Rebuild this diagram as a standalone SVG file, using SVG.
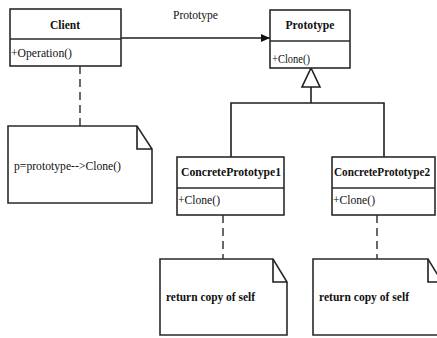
<svg xmlns="http://www.w3.org/2000/svg" width="437" height="338" viewBox="0 0 437 338" font-family="Liberation Serif, Times New Roman, serif" font-size="13">
  <defs>
    <style>
      .box { fill: #ffffff; stroke: #2a2a2a; stroke-width: 1.6; }
      .div { stroke: #2a2a2a; stroke-width: 1.4; }
      .line { fill: none; stroke: #1e1e1e; stroke-width: 1.6; }
      .dash { fill: none; stroke: #2a2a2a; stroke-width: 1.4; stroke-dasharray: 8 5; }
      .title { font-weight: bold; fill: #111; }
      .op { fill: #111; }
    </style>
    <marker id="filled" markerWidth="10" markerHeight="10" refX="9" refY="5" orient="auto" markerUnits="userSpaceOnUse">
      <path d="M0,1 L9,5 L0,9 Z" fill="#111"/>
    </marker>
  </defs>
  <rect width="437" height="338" fill="#ffffff"/>

  <!-- connectors -->
  <g id="connectors">
    <line class="line" x1="121" y1="38" x2="270" y2="38" marker-end="url(#filled)"/>
    <text class="op" x="173" y="19" textLength="45" lengthAdjust="spacingAndGlyphs">Prototype</text>
    <!-- generalization -->
    <polygon points="311,68 302,87 320,87" fill="#ffffff" stroke="#1e1e1e" stroke-width="1.6"/>
    <polyline class="line" points="311,87 311,103" stroke-width="2"/>
    <polyline class="line" points="231,157 231,103 384,103 384,157" stroke-width="2"/>
    <!-- note anchors -->
    <line class="dash" x1="80" y1="66" x2="80" y2="126"/>
    <line class="dash" x1="223" y1="215" x2="223" y2="259"/>
    <line class="dash" x1="377" y1="215" x2="377" y2="259"/>
  </g>

  <g id="client">
    <rect class="box" x="10" y="9" width="111" height="57"/>
    <line class="div" x1="10" y1="39" x2="121" y2="39"/>
    <text class="title" x="65" y="29" text-anchor="middle" textLength="30" lengthAdjust="spacingAndGlyphs">Client</text>
    <text class="op" x="11" y="57" textLength="61" lengthAdjust="spacingAndGlyphs">+Operation()</text>
  </g>

  <g id="prototype">
    <rect class="box" x="270" y="10" width="80" height="58"/>
    <line class="div" x1="270" y1="41" x2="350" y2="41"/>
    <text class="title" x="310" y="29" text-anchor="middle" textLength="49" lengthAdjust="spacingAndGlyphs">Prototype</text>
    <text class="op" x="272" y="63" textLength="38" lengthAdjust="spacingAndGlyphs">+Clone()</text>
  </g>

  <g id="concrete1">
    <rect class="box" x="177" y="157" width="107" height="58"/>
    <line class="div" x1="177" y1="188" x2="284" y2="188"/>
    <text class="title" x="231" y="176" text-anchor="middle" font-size="12" textLength="100" lengthAdjust="spacingAndGlyphs">ConcretePrototype1</text>
    <text class="op" x="178" y="204" textLength="42" lengthAdjust="spacingAndGlyphs">+Clone()</text>
  </g>

  <g id="concrete2">
    <rect class="box" x="332" y="157" width="103" height="58"/>
    <line class="div" x1="332" y1="188" x2="435" y2="188"/>
    <text class="title" x="382" y="176" text-anchor="middle" font-size="12" textLength="96" lengthAdjust="spacingAndGlyphs">ConcretePrototype2</text>
    <text class="op" x="333" y="204" textLength="42" lengthAdjust="spacingAndGlyphs">+Clone()</text>
  </g>

  <g id="note-client">
    <path class="box" d="M8,126 L137,126 L152,149 L152,203 L8,203 Z"/>
    <polyline class="line" points="137,126 137,149 152,149" stroke-width="1.4"/>
    <text class="op" x="14" y="170" textLength="107" lengthAdjust="spacingAndGlyphs">p=prototype--&gt;Clone()</text>
  </g>

  <g id="note-concrete1">
    <path class="box" d="M160,259 L273,259 L287,282 L287,335 L160,335 Z"/>
    <polyline class="line" points="273,259 273,282 287,282" stroke-width="1.4"/>
    <text class="title" x="166" y="301" textLength="89" lengthAdjust="spacingAndGlyphs">return copy of self</text>
  </g>

  <g id="note-concrete2">
    <path class="box" d="M313,259 L428,259 L442,282 L442,335 L313,335 Z"/>
    <polyline class="line" points="428,259 428,282 442,282" stroke-width="1.4"/>
    <text class="title" x="319" y="301" textLength="90" lengthAdjust="spacingAndGlyphs">return copy of self</text>
  </g>
</svg>
